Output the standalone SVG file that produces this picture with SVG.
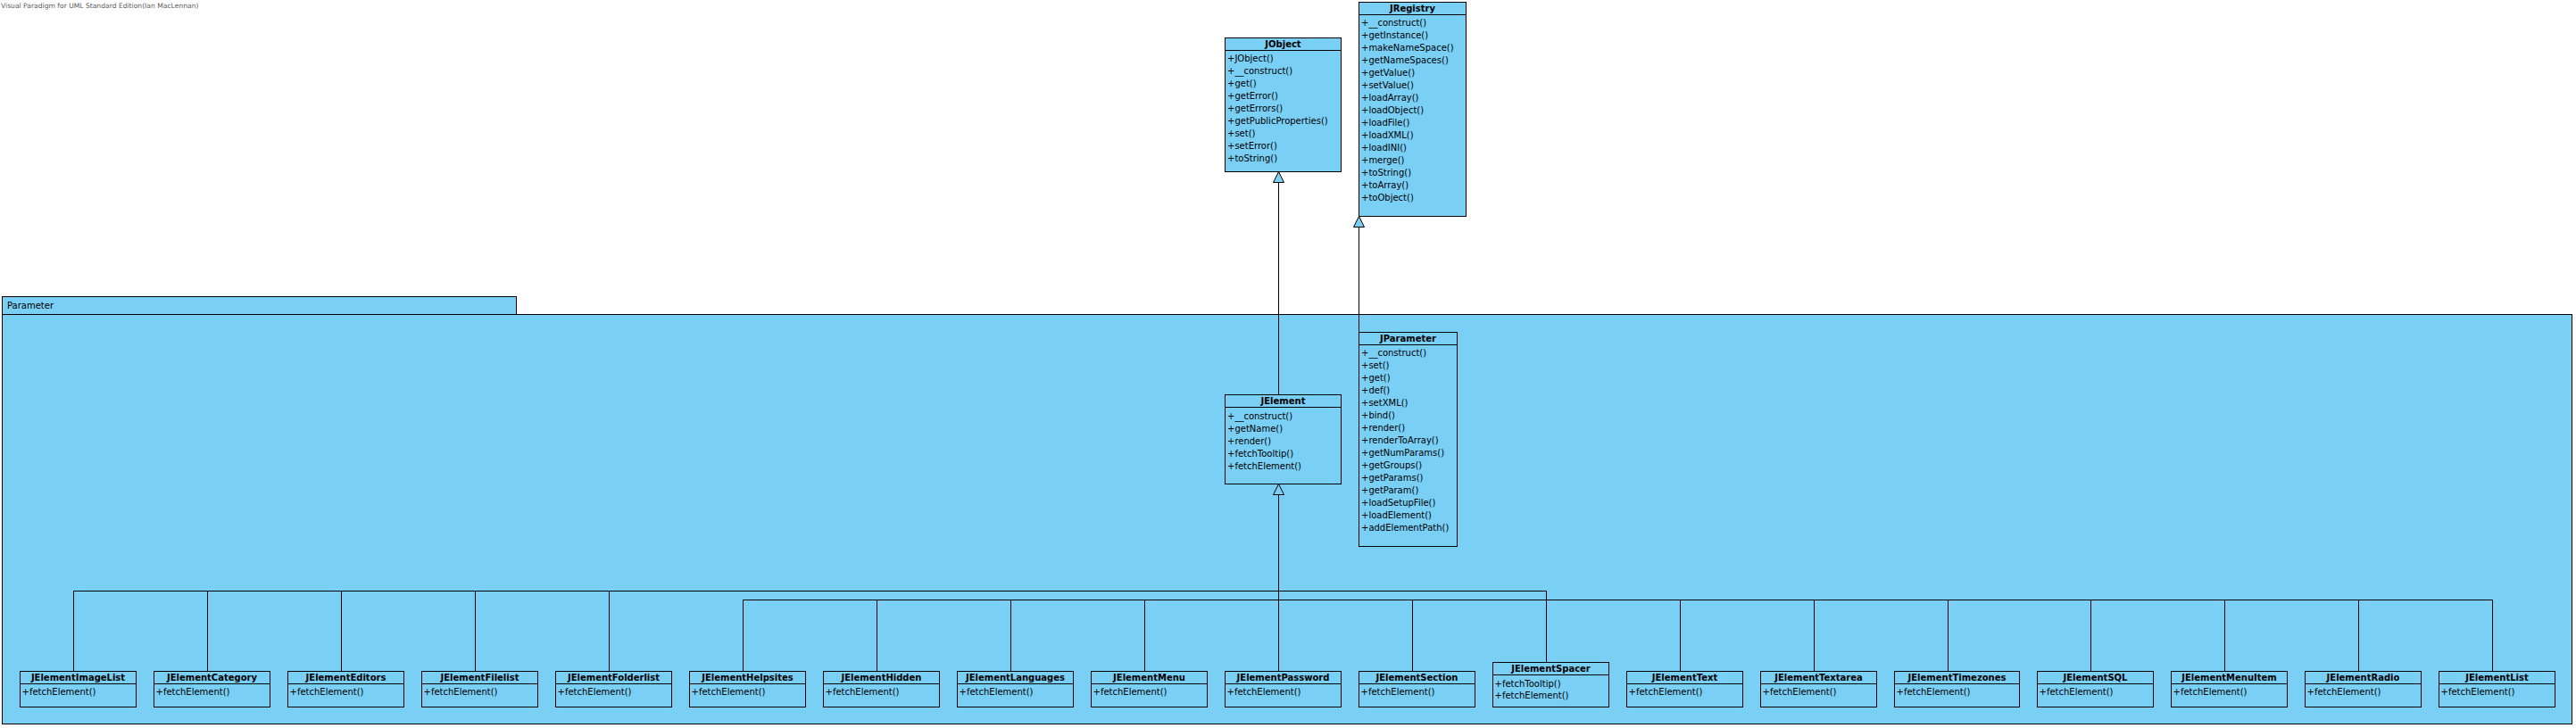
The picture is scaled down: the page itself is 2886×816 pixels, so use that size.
<svg xmlns="http://www.w3.org/2000/svg" width="2886" height="816" viewBox="0 0 2886 816">
<style>
text{font-family:"DejaVu Sans","Liberation Sans",sans-serif;font-size:10px;fill:#000}
.t{font-size:7.6px;fill:#5a5a5a}
.n{font-weight:bold;text-anchor:middle}
.box{fill:#7ACFF5;stroke:#000;stroke-width:1}
.sep{stroke:#000;stroke-width:1;fill:none}
.ln{stroke:#000;stroke-width:1;fill:none}
.tri{fill:#7ACFF5;stroke:#000;stroke-width:1}
</style>
<rect width="2886" height="816" fill="#fff"/>
<text class="t" x="1" y="9">Visual Paradigm for UML Standard Edition(Ian MacLennan)</text>

<g id="pkg-Parameter">
<rect class="box" x="2.5" y="332.5" width="576" height="20"/>
<rect class="box" x="2.5" y="352.5" width="2879" height="459"/>
<text x="8" y="346">Parameter</text>
</g>

<g id="JRegistry">
<rect class="box" x="1522.5" y="2.5" width="120" height="240"/>
<line class="sep" x1="1522.5" y1="16.5" x2="1642.5" y2="16.5"/>
<text class="n" x="1582.5" y="13">JRegistry</text>
<text x="1525" y="29">+__construct()</text>
<text x="1525" y="43">+getInstance()</text>
<text x="1525" y="57">+makeNameSpace()</text>
<text x="1525" y="71">+getNameSpaces()</text>
<text x="1525" y="85">+getValue()</text>
<text x="1525" y="99">+setValue()</text>
<text x="1525" y="113">+loadArray()</text>
<text x="1525" y="127">+loadObject()</text>
<text x="1525" y="141">+loadFile()</text>
<text x="1525" y="155">+loadXML()</text>
<text x="1525" y="169">+loadINI()</text>
<text x="1525" y="183">+merge()</text>
<text x="1525" y="197">+toString()</text>
<text x="1525" y="211">+toArray()</text>
<text x="1525" y="225">+toObject()</text>
</g>

<g id="JObject">
<rect class="box" x="1372.5" y="42.5" width="130" height="150"/>
<line class="sep" x1="1372.5" y1="56.5" x2="1502.5" y2="56.5"/>
<text class="n" x="1437.5" y="53">JObject</text>
<text x="1375" y="69">+JObject()</text>
<text x="1375" y="83">+__construct()</text>
<text x="1375" y="97">+get()</text>
<text x="1375" y="111">+getError()</text>
<text x="1375" y="125">+getErrors()</text>
<text x="1375" y="139">+getPublicProperties()</text>
<text x="1375" y="153">+set()</text>
<text x="1375" y="167">+setError()</text>
<text x="1375" y="181">+toString()</text>
</g>

<g id="JParameter">
<rect class="box" x="1522.5" y="372.5" width="110" height="240"/>
<line class="sep" x1="1522.5" y1="386.5" x2="1632.5" y2="386.5"/>
<text class="n" x="1577.5" y="383">JParameter</text>
<text x="1525" y="399">+__construct()</text>
<text x="1525" y="413">+set()</text>
<text x="1525" y="427">+get()</text>
<text x="1525" y="441">+def()</text>
<text x="1525" y="455">+setXML()</text>
<text x="1525" y="469">+bind()</text>
<text x="1525" y="483">+render()</text>
<text x="1525" y="497">+renderToArray()</text>
<text x="1525" y="511">+getNumParams()</text>
<text x="1525" y="525">+getGroups()</text>
<text x="1525" y="539">+getParams()</text>
<text x="1525" y="553">+getParam()</text>
<text x="1525" y="567">+loadSetupFile()</text>
<text x="1525" y="581">+loadElement()</text>
<text x="1525" y="595">+addElementPath()</text>
</g>

<g id="JElement">
<rect class="box" x="1372.5" y="442.5" width="130" height="100"/>
<line class="sep" x1="1372.5" y1="456.5" x2="1502.5" y2="456.5"/>
<text class="n" x="1437.5" y="453">JElement</text>
<text x="1375" y="469.5">+__construct()</text>
<text x="1375" y="483.5">+getName()</text>
<text x="1375" y="497.5">+render()</text>
<text x="1375" y="511.5">+fetchTooltip()</text>
<text x="1375" y="525.5">+fetchElement()</text>
</g>

<g id="JElementImageList">
<rect class="box" x="22.5" y="752.5" width="130" height="40"/>
<line class="sep" x1="22.5" y1="766.5" x2="152.5" y2="766.5"/>
<text class="n" x="87.5" y="763">JElementImageList</text>
<text x="24.5" y="779">+fetchElement()</text>
</g>
<g id="JElementCategory">
<rect class="box" x="172.5" y="752.5" width="130" height="40"/>
<line class="sep" x1="172.5" y1="766.5" x2="302.5" y2="766.5"/>
<text class="n" x="237.5" y="763">JElementCategory</text>
<text x="174.5" y="779">+fetchElement()</text>
</g>
<g id="JElementEditors">
<rect class="box" x="322.5" y="752.5" width="130" height="40"/>
<line class="sep" x1="322.5" y1="766.5" x2="452.5" y2="766.5"/>
<text class="n" x="387.5" y="763">JElementEditors</text>
<text x="324.5" y="779">+fetchElement()</text>
</g>
<g id="JElementFilelist">
<rect class="box" x="472.5" y="752.5" width="130" height="40"/>
<line class="sep" x1="472.5" y1="766.5" x2="602.5" y2="766.5"/>
<text class="n" x="537.5" y="763">JElementFilelist</text>
<text x="474.5" y="779">+fetchElement()</text>
</g>
<g id="JElementFolderlist">
<rect class="box" x="622.5" y="752.5" width="130" height="40"/>
<line class="sep" x1="622.5" y1="766.5" x2="752.5" y2="766.5"/>
<text class="n" x="687.5" y="763">JElementFolderlist</text>
<text x="624.5" y="779">+fetchElement()</text>
</g>
<g id="JElementHelpsites">
<rect class="box" x="772.5" y="752.5" width="130" height="40"/>
<line class="sep" x1="772.5" y1="766.5" x2="902.5" y2="766.5"/>
<text class="n" x="837.5" y="763">JElementHelpsites</text>
<text x="774.5" y="779">+fetchElement()</text>
</g>
<g id="JElementHidden">
<rect class="box" x="922.5" y="752.5" width="130" height="40"/>
<line class="sep" x1="922.5" y1="766.5" x2="1052.5" y2="766.5"/>
<text class="n" x="987.5" y="763">JElementHidden</text>
<text x="924.5" y="779">+fetchElement()</text>
</g>
<g id="JElementLanguages">
<rect class="box" x="1072.5" y="752.5" width="130" height="40"/>
<line class="sep" x1="1072.5" y1="766.5" x2="1202.5" y2="766.5"/>
<text class="n" x="1137.5" y="763">JElementLanguages</text>
<text x="1074.5" y="779">+fetchElement()</text>
</g>
<g id="JElementMenu">
<rect class="box" x="1222.5" y="752.5" width="130" height="40"/>
<line class="sep" x1="1222.5" y1="766.5" x2="1352.5" y2="766.5"/>
<text class="n" x="1287.5" y="763">JElementMenu</text>
<text x="1224.5" y="779">+fetchElement()</text>
</g>
<g id="JElementPassword">
<rect class="box" x="1372.5" y="752.5" width="130" height="40"/>
<line class="sep" x1="1372.5" y1="766.5" x2="1502.5" y2="766.5"/>
<text class="n" x="1437.5" y="763">JElementPassword</text>
<text x="1374.5" y="779">+fetchElement()</text>
</g>
<g id="JElementSection">
<rect class="box" x="1522.5" y="752.5" width="130" height="40"/>
<line class="sep" x1="1522.5" y1="766.5" x2="1652.5" y2="766.5"/>
<text class="n" x="1587.5" y="763">JElementSection</text>
<text x="1524.5" y="779">+fetchElement()</text>
</g>
<g id="JElementSpacer">
<rect class="box" x="1672.5" y="742.5" width="130" height="50"/>
<line class="sep" x1="1672.5" y1="756.5" x2="1802.5" y2="756.5"/>
<text class="n" x="1737.5" y="753">JElementSpacer</text>
<text x="1674.5" y="769.5">+fetchTooltip()</text>
<text x="1674.5" y="783">+fetchElement()</text>
</g>
<g id="JElementText">
<rect class="box" x="1822.5" y="752.5" width="130" height="40"/>
<line class="sep" x1="1822.5" y1="766.5" x2="1952.5" y2="766.5"/>
<text class="n" x="1887.5" y="763">JElementText</text>
<text x="1824.5" y="779">+fetchElement()</text>
</g>
<g id="JElementTextarea">
<rect class="box" x="1972.5" y="752.5" width="130" height="40"/>
<line class="sep" x1="1972.5" y1="766.5" x2="2102.5" y2="766.5"/>
<text class="n" x="2037.5" y="763">JElementTextarea</text>
<text x="1974.5" y="779">+fetchElement()</text>
</g>
<g id="JElementTimezones">
<rect class="box" x="2122.5" y="752.5" width="140" height="40"/>
<line class="sep" x1="2122.5" y1="766.5" x2="2262.5" y2="766.5"/>
<text class="n" x="2192.5" y="763">JElementTimezones</text>
<text x="2124.5" y="779">+fetchElement()</text>
</g>
<g id="JElementSQL">
<rect class="box" x="2282.5" y="752.5" width="130" height="40"/>
<line class="sep" x1="2282.5" y1="766.5" x2="2412.5" y2="766.5"/>
<text class="n" x="2347.5" y="763">JElementSQL</text>
<text x="2284.5" y="779">+fetchElement()</text>
</g>
<g id="JElementMenuItem">
<rect class="box" x="2432.5" y="752.5" width="130" height="40"/>
<line class="sep" x1="2432.5" y1="766.5" x2="2562.5" y2="766.5"/>
<text class="n" x="2497.5" y="763">JElementMenuItem</text>
<text x="2434.5" y="779">+fetchElement()</text>
</g>
<g id="JElementRadio">
<rect class="box" x="2582.5" y="752.5" width="130" height="40"/>
<line class="sep" x1="2582.5" y1="766.5" x2="2712.5" y2="766.5"/>
<text class="n" x="2647.5" y="763">JElementRadio</text>
<text x="2584.5" y="779">+fetchElement()</text>
</g>
<g id="JElementList">
<rect class="box" x="2732.5" y="752.5" width="130" height="40"/>
<line class="sep" x1="2732.5" y1="766.5" x2="2862.5" y2="766.5"/>
<text class="n" x="2797.5" y="763">JElementList</text>
<text x="2734.5" y="779">+fetchElement()</text>
</g>

<g id="connectors">
<path class="ln" d="M1432.5 204.5V442.5"/>
<polygon class="tri" points="1432.5,192.5 1426.5,204.5 1438.5,204.5"/>
<path class="ln" d="M1522.5 254.5V372.5"/>
<polygon class="tri" points="1522.5,242.5 1516.5,254.5 1528.5,254.5"/>
<path class="ln" d="M1432.5 554.5V752.5"/>
<polygon class="tri" points="1432.5,542.5 1426.5,554.5 1438.5,554.5"/>
<path class="ln" d="M82.5 752.5V662.5H1732.5V742.5M232.5 662.5V752.5M382.5 662.5V752.5M532.5 662.5V752.5M682.5 662.5V752.5"/>
<path class="ln" d="M832.5 752.5V672.5H2792.5V752.5M982.5 672.5V752.5M1132.5 672.5V752.5M1282.5 672.5V752.5M1582.5 672.5V752.5M1882.5 672.5V752.5M2032.5 672.5V752.5M2182.5 672.5V752.5M2342.5 672.5V752.5M2492.5 672.5V752.5M2642.5 672.5V752.5"/>
</g>
</svg>
